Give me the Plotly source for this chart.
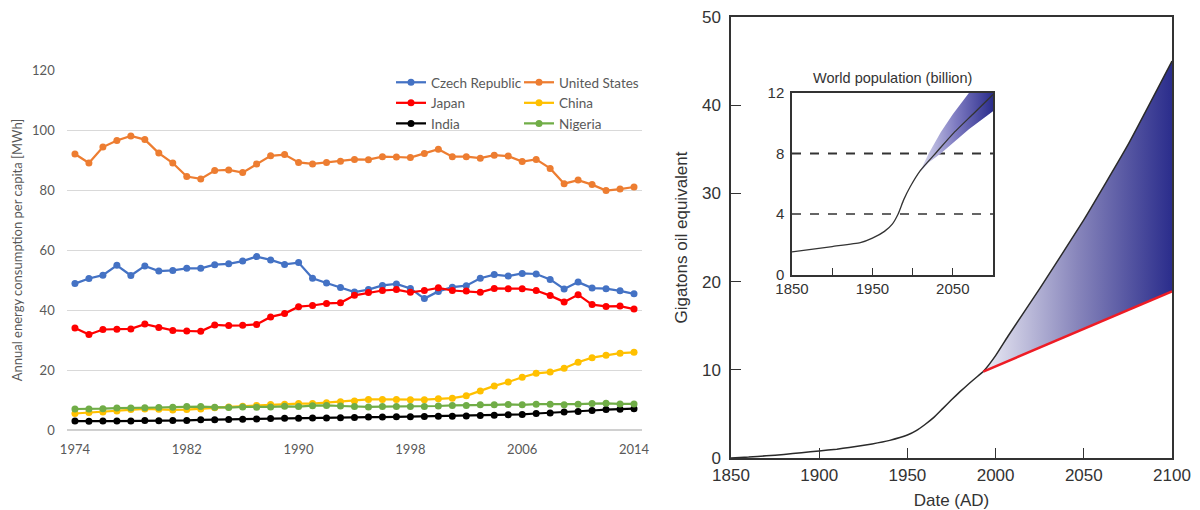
import plotly.graph_objects as go

# ---------------- Left chart data ----------------
years = list(range(1974, 2015))
czech = [48.8, 50.5, 51.6, 54.9, 51.5, 54.7, 53.0, 53.2, 53.9, 53.9, 55.1, 55.4, 56.3, 57.8, 56.7, 55.2, 55.8,
         50.6, 49.0, 47.5, 46.0, 46.8, 48.2, 48.7, 47.2, 43.8, 46.2, 47.6, 48.1, 50.6, 51.8, 51.3, 52.2, 52.0,
         50.2, 47.0, 49.3, 47.3, 47.1, 46.4, 45.4]
usa = [92.0, 89.0, 94.3, 96.5, 98.0, 96.8, 92.3, 89.0, 84.5, 83.7, 86.5, 86.7, 85.8, 88.7, 91.4, 91.8, 89.2,
       88.7, 89.2, 89.6, 90.2, 90.1, 91.1, 91.0, 90.8, 92.2, 93.6, 91.1, 91.1, 90.6, 91.6, 91.3, 89.5, 90.2,
       87.2, 82.1, 83.3, 81.8, 79.8, 80.3, 81.0]
japan = [34.0, 31.8, 33.5, 33.6, 33.7, 35.3, 34.2, 33.2, 33.0, 32.9, 35.0, 34.8, 34.9, 35.2, 37.7, 38.8, 41.1,
         41.5, 42.2, 42.4, 44.9, 45.8, 46.5, 46.8, 45.9, 46.5, 47.4, 46.5, 46.3, 45.9, 47.2, 47.1, 47.1, 46.5,
         44.8, 42.7, 45.1, 41.8, 41.2, 41.3, 40.3]
china = [5.5, 5.8, 6.0, 6.3, 6.8, 7.0, 6.9, 6.7, 6.8, 7.0, 7.4, 7.7, 7.9, 8.2, 8.5, 8.6, 8.8,
         8.8, 9.1, 9.4, 9.7, 10.2, 10.2, 10.2, 10.1, 10.1, 10.4, 10.6, 11.4, 13.0, 14.7, 16.0, 17.6, 18.9,
         19.3, 20.6, 22.6, 24.1, 24.9, 25.6, 25.9]
india = [3.0, 2.9, 3.0, 3.0, 3.0, 3.2, 3.1, 3.2, 3.2, 3.4, 3.4, 3.5, 3.6, 3.7, 3.8, 3.9, 3.9,
         4.0, 4.0, 4.1, 4.2, 4.3, 4.3, 4.4, 4.4, 4.5, 4.6, 4.6, 4.7, 4.8, 4.9, 5.1, 5.2, 5.5,
         5.7, 6.0, 6.2, 6.5, 6.8, 6.9, 7.1]
nigeria = [7.0, 7.0, 7.1, 7.3, 7.3, 7.4, 7.5, 7.6, 7.8, 7.8, 7.6, 7.5, 7.7, 7.6, 7.7, 7.9, 7.8,
           8.1, 8.2, 8.0, 7.8, 7.7, 7.8, 7.8, 7.8, 7.8, 8.0, 8.2, 8.2, 8.4, 8.4, 8.5, 8.4, 8.6,
           8.6, 8.4, 8.6, 8.8, 8.9, 8.7, 8.7]
left_xticks = [1974, 1982, 1990, 1998, 2006, 2014]
left_yticks = [0, 20, 40, 60, 80, 100, 120]

# ---------------- Right chart data ----------------
energy_years = [1850, 1860, 1870, 1880, 1890, 1900, 1910, 1917, 1930, 1940, 1950, 1955, 1960, 1965, 1970,
                1975, 1980, 1985, 1990, 1993, 2000, 2007, 2025, 2050, 2075, 2100]
energy_vals = [0.0, 0.1, 0.25, 0.4, 0.6, 0.8, 1.0, 1.2, 1.6, 2.0, 2.6, 3.1, 3.8, 4.6, 5.6,
               6.6, 7.55, 8.45, 9.3, 9.8, 11.6, 13.8, 19.2, 27.0, 35.5, 45.0]
proj_years = [1993, 2000, 2007, 2025, 2050, 2075, 2100]
proj_high = [9.8, 11.6, 13.8, 19.2, 27.0, 35.5, 45.0]
proj_low = [9.8, 10.4, 11.0, 12.5, 14.7, 16.8, 18.9]
right_xticks = [1850, 1900, 1950, 2000, 2050, 2100]
right_yticks = [0, 10, 20, 30, 40, 50]

# ---------------- Inset data ----------------
pop_years = [1850, 1900, 1935, 1950, 1965, 1975, 1982, 1989, 1997, 2010, 2030, 2050, 2075, 2100]
pop_vals = [1.5, 1.85, 2.1, 2.4, 2.85, 3.35, 4.0, 4.95, 5.8, 6.9, 8.1, 9.3, 10.6, 11.9]
band_years = [2010, 2020, 2035, 2050, 2070, 2100]
band_high = [6.9, 8.0, 9.4, 10.6, 12.0, 13.8]
band_low = [6.8, 7.4, 8.0, 8.7, 9.6, 10.8]
ref_levels = [4, 8]
inset_xticks = [1850, 1900, 1950, 2000, 2050]
inset_xlabels = ["1850", "", "1950", "", "2050"]
inset_yticks = [0, 4, 8, 12]

# the page body has an 8px margin; the figure is sized so it fills the 1200x510 window
OFF = 8
W, H = 1200 - OFF, 510 - OFF
fig = go.Figure()

LEFT_FONT = "Lato, 'Open Sans', sans-serif"
RIGHT_FONT = "'Liberation Sans', Arial, sans-serif"

series = [
    ("Czech Republic", czech, "#4472C4", "legend"),
    ("United States", usa, "#ED7D31", "legend2"),
    ("Japan", japan, "#FF0000", "legend"),
    ("China", china, "#FFC000", "legend2"),
    ("India", india, "#000000", "legend"),
    ("Nigeria", nigeria, "#70AD47", "legend2"),
]
for name, vals, col, lg in series:
    fig.add_trace(go.Scatter(
        x=years, y=vals, name=name, mode="lines+markers",
        line=dict(color=col, width=2.25), marker=dict(color=col, size=7),
        xaxis="x", yaxis="y", legend=lg, showlegend=True))

# Right chart: gradient fill between red (low) and black (high) projection
fig.add_trace(go.Scatter(x=proj_years, y=proj_low, mode="lines", line=dict(color="rgba(0,0,0,0)", width=0),
                         xaxis="x2", yaxis="y2", showlegend=False, hoverinfo="skip"))
fig.add_trace(go.Scatter(x=proj_years, y=proj_high, mode="lines",
                         line=dict(color="rgba(0,0,0,0)", width=0, shape="spline", smoothing=0.4),
                         fill="tonexty",
                         fillgradient=dict(type="horizontal",
                                           colorscale=[[0, "#ebebf5"], [0.5, "#8785bb"], [1, "#2b2d8c"]]),
                         xaxis="x2", yaxis="y2", showlegend=False, hoverinfo="skip"))
fig.add_trace(go.Scatter(x=energy_years, y=energy_vals, mode="lines",
                         line=dict(color="#2a2a2a", width=1.5, shape="spline", smoothing=0.4),
                         xaxis="x2", yaxis="y2", showlegend=False))
fig.add_trace(go.Scatter(x=[proj_years[0], proj_years[-1]], y=[proj_low[0], proj_low[-1]], mode="lines",
                         line=dict(color="#ee1c25", width=2.5),
                         xaxis="x2", yaxis="y2", showlegend=False))

# Inset
for lv, wd in zip(ref_levels, [1.6, 2.2]):
    fig.add_trace(go.Scatter(x=[1850, 2100], y=[lv, lv], mode="lines",
                             line=dict(color="#333333", width=wd, dash="dash"),
                             xaxis="x3", yaxis="y3", showlegend=False))
fig.add_trace(go.Scatter(x=band_years, y=band_low, mode="lines", line=dict(color="rgba(0,0,0,0)", width=0),
                         xaxis="x3", yaxis="y3", showlegend=False, hoverinfo="skip"))
fig.add_trace(go.Scatter(x=band_years, y=band_high, mode="lines", line=dict(color="rgba(0,0,0,0)", width=0),
                         fill="tonexty",
                         fillgradient=dict(type="horizontal",
                                           colorscale=[[0, "#d8d8ee"], [0.5, "#7c79c0"], [1, "#2b2d8c"]]),
                         xaxis="x3", yaxis="y3", showlegend=False, hoverinfo="skip"))
fig.add_trace(go.Scatter(x=pop_years, y=pop_vals, mode="lines",
                         line=dict(color="#333333", width=1.3, shape="spline", smoothing=0.5),
                         xaxis="x3", yaxis="y3", showlegend=False))


def px_x(p):
    return (p - OFF) / W


def px_y(p):
    return 1 - (p - OFF) / H


fig.update_layout(
    width=W, height=H, margin=dict(l=0, r=0, t=0, b=0, autoexpand=False),
    paper_bgcolor="white", plot_bgcolor="white",
    xaxis=dict(domain=[px_x(66.7), px_x(641.7)], range=[1973.41, 2014.55], anchor="y", automargin=False,
               tickmode="array", tickvals=left_xticks, showgrid=False, zeroline=False,
               showline=False, ticks="", ticklabelstandoff=10,
               tickfont=dict(family=LEFT_FONT, size=13, color="#595959")),
    yaxis=dict(domain=[px_y(430), px_y(70)], range=[0, 120], anchor="x", automargin=False,
               tickmode="array", tickvals=left_yticks, showgrid=True, gridcolor="#d9d9d9", gridwidth=1,
               zeroline=True, zerolinecolor="#d0d0d0", showline=False, ticks="", ticklabelstandoff=11,
               tickfont=dict(family=LEFT_FONT, size=13, color="#595959"),
               title=dict(text="Annual energy consumption per capita [MWh]", standoff=6,
                          font=dict(family=LEFT_FONT, size=13, color="#595959"))),
    xaxis2=dict(domain=[px_x(731), px_x(1172)], range=[1850, 2100], anchor="y2", automargin=False,
                tickmode="array", tickvals=right_xticks, ticks="inside", ticklen=10, tickcolor="#333333",
                showgrid=False, zeroline=False, showline=True, mirror=True, linecolor="#333333", linewidth=1.5,
                ticklabelstandoff=1, ticklabeloverflow="allow",
                tickfont=dict(family=RIGHT_FONT, size=17, color="#333333"),
                title=dict(text="Date (AD)", standoff=12, font=dict(family=RIGHT_FONT, size=17, color="#333333"))),
    yaxis2=dict(domain=[px_y(458), px_y(17)], range=[0, 50], anchor="x2", automargin=False,
                tickmode="array", tickvals=right_yticks, ticks="inside", ticklen=10, tickcolor="#333333",
                showgrid=False, zeroline=False, showline=True, mirror=True, linecolor="#333333", linewidth=1.5,
                ticklabelstandoff=5, ticklabeloverflow="allow",
                tickfont=dict(family=RIGHT_FONT, size=17, color="#333333"),
                title=dict(text="Gigatons oil equivalent", standoff=10,
                           font=dict(family=RIGHT_FONT, size=17, color="#333333"))),
    xaxis3=dict(domain=[px_x(792), px_x(993)], range=[1850, 2100], anchor="y3", automargin=False,
                tickmode="array", tickvals=inset_xticks, ticktext=inset_xlabels, ticks="inside", ticklen=7,
                tickcolor="#333333", showgrid=False, zeroline=False, showline=True, mirror=True,
                linecolor="#333333", linewidth=1.5,
                tickfont=dict(family=RIGHT_FONT, size=15, color="#333333")),
    yaxis3=dict(domain=[px_y(274.5), px_y(93)], range=[0, 12], anchor="x3", automargin=False,
                tickmode="array", tickvals=inset_yticks, ticks="", showgrid=False, zeroline=False,
                showline=True, mirror=True, linecolor="#333333", linewidth=1.5, ticklabelstandoff=3,
                tickfont=dict(family=RIGHT_FONT, size=15, color="#333333")),
    legend=dict(x=px_x(391), y=px_y(67), xanchor="left", yanchor="top", bgcolor="rgba(0,0,0,0)",
                font=dict(family=LEFT_FONT, size=13.5, color="#595959"), tracegroupgap=0, itemwidth=30,
                traceorder="normal"),
    legend2=dict(x=px_x(519), y=px_y(67), xanchor="left", yanchor="top", bgcolor="rgba(0,0,0,0)",
                 font=dict(family=LEFT_FONT, size=13.5, color="#595959"), tracegroupgap=0, itemwidth=30,
                 traceorder="normal"),
    annotations=[dict(text="World population (billion)", x=(px_x(792) + px_x(993)) / 2, y=px_y(78),
                      xref="paper", yref="paper", showarrow=False, xanchor="center", yanchor="middle",
                      font=dict(family=RIGHT_FONT, size=14.5, color="#333333"))],
)

fig.write_html("out.html")
